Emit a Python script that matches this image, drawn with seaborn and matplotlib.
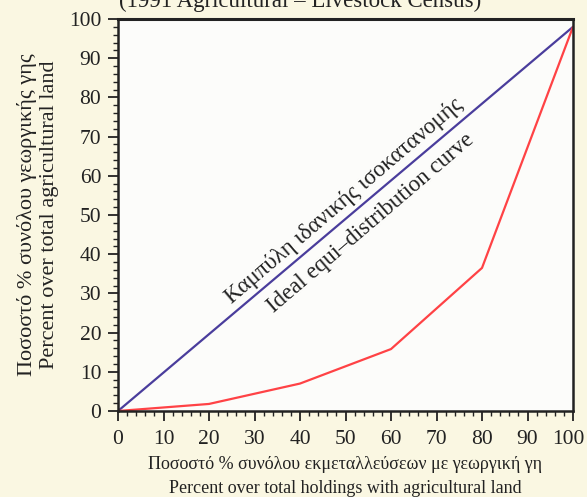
import matplotlib
matplotlib.use("Agg")
import matplotlib.pyplot as plt
import matplotlib.transforms as mtransforms
import seaborn as sns
import pandas as pd
from matplotlib.ticker import MultipleLocator

# Data
holdings_pct = [0, 20, 40, 60, 80, 100]
land_pct = [0, 1.8, 7, 15.8, 36.5, 98]
ideal_x = [0, 100]
ideal_y = [0, 98]
ticks = [0, 10, 20, 30, 40, 50, 60, 70, 80, 90, 100]

sns.set_theme(style="white")
plt.rcParams['font.family'] = ['Liberation Serif', 'DejaVu Serif']

fig = plt.figure(figsize=(5.87, 4.97), dpi=100)
fig.patch.set_facecolor('#faf7e2')
ax = fig.add_axes([118/587, (497-411)/497, (573-118)/587, (411-19)/497])
ax.set_facecolor('#fcfcfa')

df_ideal = pd.DataFrame({'x': ideal_x, 'y': ideal_y})
df_act = pd.DataFrame({'x': holdings_pct, 'y': land_pct})
sns.lineplot(data=df_ideal, x='x', y='y', ax=ax, color='#4a3d9c', linewidth=1.6)
sns.lineplot(data=df_act, x='x', y='y', ax=ax, color='#ff4245', linewidth=1.6)

ax.set_xlim(0, 100)
ax.set_ylim(0, 100)
ax.set_xticks(ticks)
ax.set_yticks(ticks)
ax.xaxis.set_minor_locator(MultipleLocator(2))
ax.yaxis.set_minor_locator(MultipleLocator(2))
ax.tick_params(which='major', direction='out', length=7, width=1.3, colors='#222222',
               labelsize=15.5, labelcolor='#222222', bottom=True, left=True, pad=5)
ax.tick_params(axis='x', which='major', pad=7)
ax.tick_params(which='minor', direction='out', length=3.5, width=1.0, colors='#222222',
               bottom=True, left=True)
for s in ax.spines.values():
    s.set_color('#222222')
    s.set_linewidth(1.8)
ax.spines['top'].set_linewidth(2.2)

# nudge the last x tick label left so it stays inside the figure
fig.canvas.draw()
last = ax.get_xticklabels()[-1]
last.set_transform(last.get_transform() + mtransforms.ScaledTranslation(-5/100, 0, fig.dpi_scale_trans))

ax.set_xlabel('Ποσοστό % συνόλου εκμεταλλεύσεων με γεωργική γη\nPercent over total holdings with agricultural land',
              fontsize=13, color='#222222', labelpad=5, linespacing=1.5)
ax.set_ylabel('Ποσοστό % συνόλου γεωργικής γης\nPercent over total agricultural land',
              fontsize=16, color='#222222', labelpad=7, linespacing=1.25)

ax.text(49.7, 53.6, 'Καμπύλη ιδανικής ισοκατανομής', rotation=40.5, fontsize=16.5,
        ha='center', va='center', color='#222222', rotation_mode='anchor')
ax.text(55.6, 47.8, 'Ideal equi–distribution curve', rotation=40.5, fontsize=16.5,
        ha='center', va='center', color='#222222', rotation_mode='anchor')

fig.text(300/587, 1.0 - 7/497, '(1991 Agricultural – Livestock Census)', fontsize=16.5,
         ha='center', va='baseline', color='#222222')

fig.savefig('out.png', dpi=100, facecolor=fig.get_facecolor())
